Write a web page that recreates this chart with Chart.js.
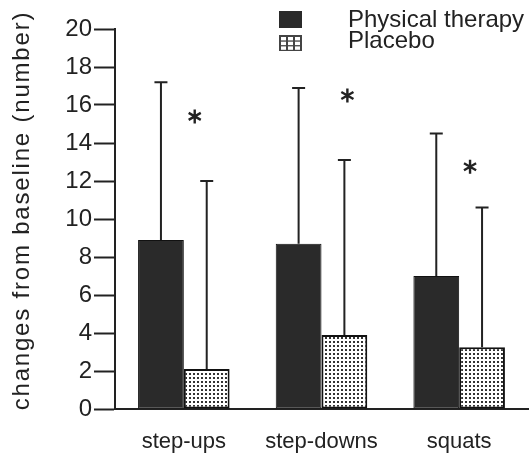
<!DOCTYPE html>
<html>
<head>
<meta charset="utf-8">
<script src="https://cdn.jsdelivr.net/npm/chart.js@4/dist/chart.umd.min.js"></script>
<style>
  body { margin: 0; background: #fff; }
  #wrap { width: 531px; height: 457px; }
</style>
</head>
<body>
<div id="wrap"><canvas id="chart" width="531" height="457"></canvas></div>
<script>
// chart values
var categories = ['step-ups', 'step-downs', 'squats'];
var seriesNames = ['Physical therapy', 'Placebo'];
var therapyValues = [8.9, 8.7, 7.0];
var therapyErrorTops = [17.2, 16.9, 14.5];
var placeboValues = [2.1, 3.9, 3.25];
var placeboErrorTops = [12.0, 13.1, 10.6];
var starValues = [15.4, 16.5, 12.75];
var yTicks = [0, 2, 4, 6, 8, 10, 12, 14, 16, 18, 20];

var ink = '#222';
var barDark = '#2a2a2a';

// dotted fill for the placebo bars
function makeDots() {
  var c = document.createElement('canvas');
  c.width = 4; c.height = 4;
  var g = c.getContext('2d');
  g.fillStyle = '#fff';
  g.fillRect(0, 0, 4, 4);
  g.fillStyle = '#333';
  g.fillRect(1, 1, 2, 2);
  return g.createPattern(c, 'repeat');
}
var dots = makeDots();

// error bars (upper only), asterisks and the legend
var extras = {
  id: 'extras',
  afterDatasetsDraw: function(chart) {
    var ctx = chart.ctx;
    var y = chart.scales.y;
    var tops = [therapyErrorTops, placeboErrorTops];
    ctx.save();
    ctx.strokeStyle = ink;
    ctx.lineWidth = 2;
    for (var d = 0; d < 2; d++) {
      chart.getDatasetMeta(d).data.forEach(function(bar, i) {
        var yTop = y.getPixelForValue(tops[d][i]);
        ctx.beginPath();
        ctx.moveTo(bar.x, bar.y);
        ctx.lineTo(bar.x, yTop);
        ctx.moveTo(bar.x - 6.5, yTop);
        ctx.lineTo(bar.x + 6.5, yTop);
        ctx.stroke();
      });
    }
    // asterisks near the placebo bars
    var shift = [-12, 3, -12];
    ctx.lineWidth = 2.4;
    chart.getDatasetMeta(1).data.forEach(function(bar, i) {
      var cx = bar.x + shift[i];
      var cy = y.getPixelForValue(starValues[i]);
      ctx.beginPath();
      for (var k = 0; k < 3; k++) {
        var a = Math.PI / 2 + k * Math.PI / 3;
        ctx.moveTo(cx - 7 * Math.cos(a), cy - 7 * Math.sin(a));
        ctx.lineTo(cx + 7 * Math.cos(a), cy + 7 * Math.sin(a));
      }
      ctx.stroke();
    });
    ctx.restore();
  },
  afterDraw: function(chart) {
    var ctx = chart.ctx;
    ctx.save();
    // legend swatches
    ctx.fillStyle = barDark;
    ctx.fillRect(279, 11, 23, 17);
    ctx.fillStyle = '#444';
    ctx.fillRect(279, 35, 23, 16);
    ctx.fillStyle = '#fff';
    for (var r = 0; r < 3; r++) {
      for (var c = 0; c < 3; c++) {
        ctx.fillRect(281 + c * 7, 37 + r * 4.7, 5, 3.4);
      }
    }
    ctx.fillStyle = ink;
    ctx.font = '24px "Liberation Sans", Arial, sans-serif';
    ctx.textAlign = 'left';
    ctx.textBaseline = 'alphabetic';
    ctx.fillText(seriesNames[0], 348, 27);
    ctx.fillText(seriesNames[1], 348, 48);
    ctx.restore();
  }
};

var ctx = document.getElementById('chart').getContext('2d');
var myChart = new Chart(ctx, {
  type: 'bar',
  data: {
    labels: categories,
    datasets: [{
      label: seriesNames[0],
      data: therapyValues,
      backgroundColor: barDark,
      borderColor: '#111',
      borderWidth: 1,
      borderSkipped: false
    }, {
      label: seriesNames[1],
      data: placeboValues,
      backgroundColor: dots,
      borderColor: '#111',
      borderWidth: 2,
      borderSkipped: false
    }]
  },
  options: {
    responsive: false,
    animation: false,
    layout: { padding: { left: 0, right: 3, top: 29, bottom: 0 } },
    plugins: { legend: { display: false }, tooltip: { enabled: false } },
    datasets: { bar: { categoryPercentage: 0.665, barPercentage: 1 } },
    scales: {
      x: {
        grid: { display: true, drawOnChartArea: false, drawTicks: false },
        border: { display: true, color: ink, width: 2 },
        ticks: {
          color: ink,
          padding: 20,
          font: { family: '"Liberation Sans", Arial, sans-serif', size: 22, lineHeight: 1.2 }
        },
        afterFit: function(scale) { scale.height = 48; }
      },
      y: {
        min: 0,
        max: 20,
        afterBuildTicks: function(scale) {
          scale.ticks = yTicks.map(function(v) { return { value: v }; });
        },
        grid: { drawOnChartArea: false, drawTicks: true, tickLength: 21, tickColor: ink, tickWidth: 2 },
        border: { display: true, color: ink, width: 2 },
        ticks: {
          color: ink,
          padding: 2,
          font: { family: '"Liberation Sans", Arial, sans-serif', size: 24, lineHeight: 1.2 }
        },
        title: {
          display: true,
          // leading spaces nudge the rotated title up, as in the original
          text: '  changes from baseline (number)',
          color: ink,
          padding: { top: 8, bottom: 0 },
          font: { family: '"Liberation Sans", Arial, sans-serif', size: 24, lineHeight: 1.2 }
        },
        afterFit: function(scale) {
          scale.width = 115;
          // the original title is set a little wider than plain Arial
          if (!scale._spaced) {
            var orig = scale.drawTitle;
            scale.drawTitle = function() {
              this.ctx.save();
              this.ctx.letterSpacing = '1.8px';
              orig.apply(this, arguments);
              this.ctx.restore();
            };
            scale._spaced = true;
          }
        }
      }
    }
  },
  plugins: [extras]
});
</script>
</body>
</html>
